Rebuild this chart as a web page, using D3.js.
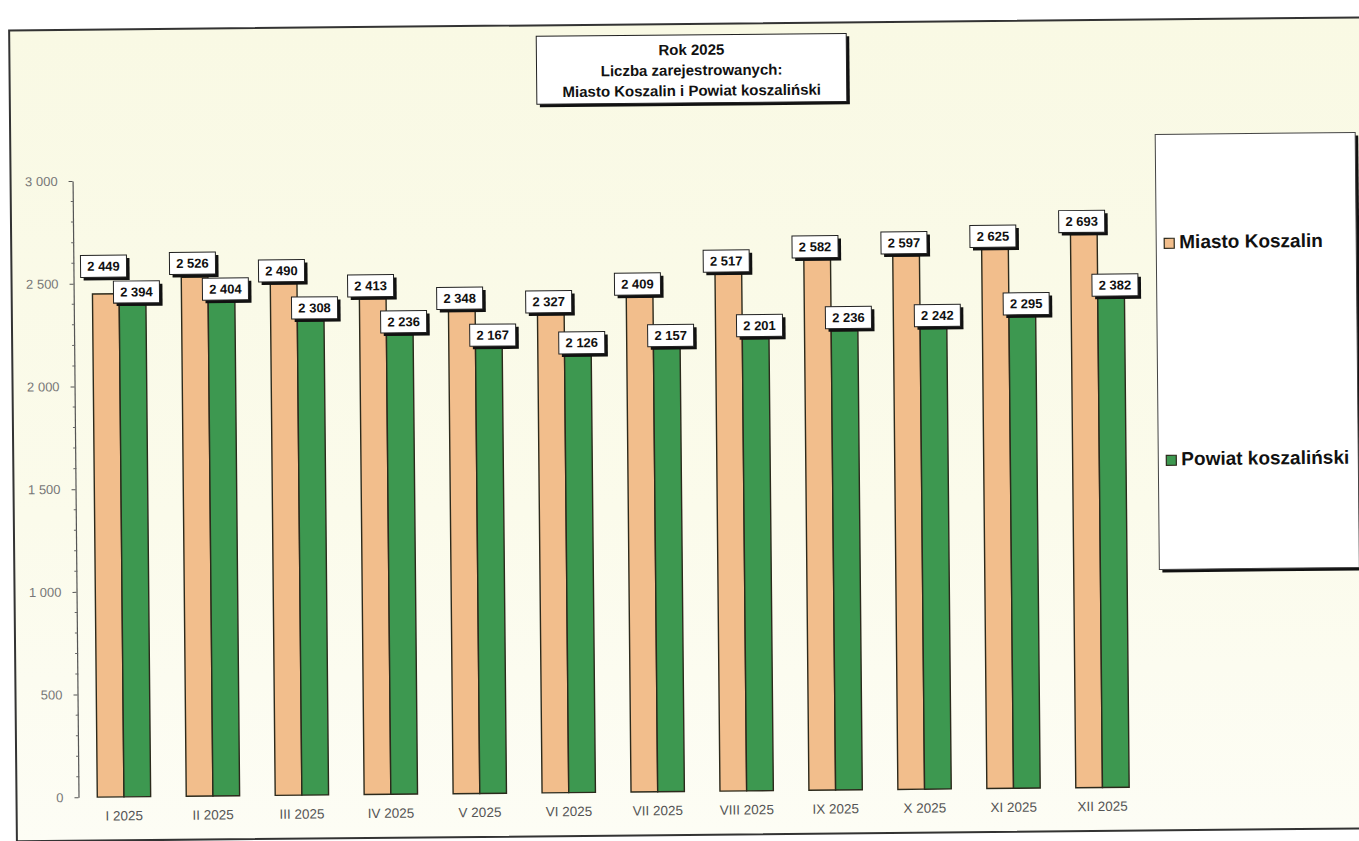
<!DOCTYPE html>
<html>
<head>
<meta charset="utf-8">
<script src="https://cdn.jsdelivr.net/npm/d3@7"></script>
<style>
  body { margin: 0; background: #fff; }
  svg { display: block; font-family: "Liberation Sans", Arial, sans-serif; }
</style>
</head>
<body>
<script>
//data
const months = ["I 2025", "II 2025", "III 2025", "IV 2025", "V 2025", "VI 2025",
  "VII 2025", "VIII 2025", "IX 2025", "X 2025", "XI 2025", "XII 2025"];
const series = ["Miasto Koszalin", "Powiat koszaliński"];
const miasto = [2449, 2526, 2490, 2413, 2348, 2327, 2409, 2517, 2582, 2597, 2625, 2693];
const powiat = [2394, 2404, 2308, 2236, 2167, 2126, 2157, 2201, 2236, 2242, 2295, 2382];
const yTicks = [0, 500, 1000, 1500, 2000, 2500, 3000];
const titleLines = ["Rok 2025", "Liczba zarejestrowanych:", "Miasto Koszalin i Powiat koszaliński"];
const colors = ["#f2be8c", "#3d9850"];

const width = 1359,
  height = 841;

const svg = d3
  .select("body")
  .append("svg")
  .attr("width", width)
  .attr("height", height);

//pale paper background
const grad = svg
  .append("defs")
  .append("linearGradient")
  .attr("id", "bg")
  .attr("x1", 0).attr("y1", 0).attr("x2", 0).attr("y2", 1);
grad.append("stop").attr("offset", "0%").attr("stop-color", "#f9f9e4");
grad.append("stop").attr("offset", "60%").attr("stop-color", "#fbfbeb");
grad.append("stop").attr("offset", "100%").attr("stop-color", "#fdfdf5");

//the scanned page is tilted a little
const g = svg.append("g").attr("transform", "rotate(-0.55, 680, 430)");

//chart frame
g.append("rect")
  .attr("x", 13)
  .attr("y", 24)
  .attr("width", 1420)
  .attr("height", 811)
  .attr("fill", "url(#bg)")
  .attr("stroke", "#333")
  .attr("stroke-width", 2);

//scales
const x = d3.scaleBand().domain(months).range([76, 1143.5]).paddingInner(0.4).paddingOuter(0.2);
const xSub = d3.scaleBand().domain(series).range([0, x.bandwidth()]);
const y = d3.scaleLinear().domain([0, 3000]).range([791.5, 175.2]);

//y axis
const yAxis = g
  .append("g")
  .attr("transform", "translate(75,0)")
  .call(
    d3.axisLeft(y)
      .tickValues(yTicks)
      .tickSize(4)
      .tickSizeOuter(0)
      .tickPadding(11)
      .tickFormat((d) => d3.format(",")(d).replace(",", " "))
  );
yAxis.select(".domain").attr("stroke", "#555").attr("stroke-width", 1.2);
yAxis.selectAll(".tick line").attr("stroke", "#555");
yAxis.selectAll(".tick text").attr("fill", "#777").style("font-size", "13px");

//minor ticks every 100
g.append("g")
  .selectAll("line")
  .data(d3.range(100, 3000, 100).filter((d) => d % 500 != 0))
  .join("line")
  .attr("x1", 73)
  .attr("x2", 76)
  .attr("y1", (d) => y(d))
  .attr("y2", (d) => y(d))
  .attr("stroke", "#666");

//x labels
g.append("g")
  .selectAll("text")
  .data(months)
  .join("text")
  .attr("x", (d) => x(d) + x.bandwidth() / 2)
  .attr("y", 815)
  .attr("text-anchor", "middle")
  .attr("fill", "#555")
  .style("font-size", "13.5px")
  .text((d) => d);

//bars
const groups = g
  .selectAll(".grp")
  .data(months)
  .join("g")
  .attr("class", "grp")
  .attr("transform", (d) => `translate(${x(d)},0)`);

groups
  .selectAll("rect")
  .data((d, i) => [
    { s: series[0], v: miasto[i] },
    { s: series[1], v: powiat[i] },
  ])
  .join("rect")
  .attr("x", (d) => xSub(d.s))
  .attr("y", (d) => y(d.v))
  .attr("width", xSub.bandwidth())
  .attr("height", (d) => y(0) - y(d.v))
  .attr("fill", (d, j) => colors[j])
  .attr("stroke", "#2c2a1c")
  .attr("stroke-width", 1.4);

//value labels (boxed, with shadow)
const lw = 46,
  lh = 22;

function valueLabel(cx, top, v) {
  const lab = g.append("g").attr("transform", `translate(${cx - lw / 2},${top})`);
  lab.append("rect").attr("x", 3).attr("y", 3).attr("width", lw).attr("height", lh).attr("fill", "#111");
  lab.append("rect")
    .attr("width", lw)
    .attr("height", lh)
    .attr("fill", "#fff")
    .attr("stroke", "#222")
    .attr("stroke-width", 1);
  lab.append("text")
    .attr("x", lw / 2)
    .attr("y", 15.5)
    .attr("text-anchor", "middle")
    .style("font-size", "13px")
    .style("font-weight", "bold")
    .attr("fill", "#111")
    .text(d3.format(",")(v).replace(",", " "));
}

months.forEach((m, i) => {
  const ox = x(m) + xSub(series[0]) + xSub.bandwidth() / 2 - 2;
  const gx = x(m) + xSub(series[1]) + xSub.bandwidth() / 2 + 4;
  const gTop = y(powiat[i]) - 2 - lh;
  let oTop = y(miasto[i]) - 2 - lh;
  //keep the two boxes apart
  if (Math.abs(ox - gx) < lw && oTop + lh > gTop - 4) oTop = gTop - 4 - lh;
  valueLabel(ox, oTop, miasto[i]);
  valueLabel(gx, gTop, powiat[i]);
});

//title box
const tb = g.append("g").attr("transform", "translate(540,35)");
tb.append("rect").attr("x", 3).attr("y", 3).attr("width", 310).attr("height", 68).attr("fill", "#111");
tb.append("rect")
  .attr("width", 310)
  .attr("height", 68)
  .attr("fill", "#fff")
  .attr("stroke", "#222");
tb.selectAll("text")
  .data(titleLines)
  .join("text")
  .attr("x", 155)
  .attr("y", (d, i) => 20 + i * 20.5)
  .attr("text-anchor", "middle")
  .style("font-size", "15px")
  .style("font-weight", "bold")
  .attr("fill", "#111")
  .text((d) => d);

//legend
const lg = g.append("g").attr("transform", "translate(1158,139)");
lg.append("rect").attr("x", 3).attr("y", 3).attr("width", 200).attr("height", 435).attr("fill", "#111");
lg.append("rect")
  .attr("width", 200)
  .attr("height", 435)
  .attr("fill", "#fff")
  .attr("stroke", "#444");
const items = lg
  .selectAll(".item")
  .data(series)
  .join("g")
  .attr("class", "item")
  .attr("transform", (d, i) => `translate(8,${114 + i * 217})`);
items
  .append("rect")
  .attr("x", 0)
  .attr("y", -10)
  .attr("width", 10)
  .attr("height", 10)
  .attr("fill", (d, i) => colors[i])
  .attr("stroke", "#2c2a1c")
  .attr("stroke-width", 1.2);
items
  .append("text")
  .attr("x", 15)
  .attr("y", 0)
  .style("font-size", "19px")
  .style("font-weight", "bold")
  .attr("fill", "#111")
  .text((d) => d);
</script>
</body>
</html>
